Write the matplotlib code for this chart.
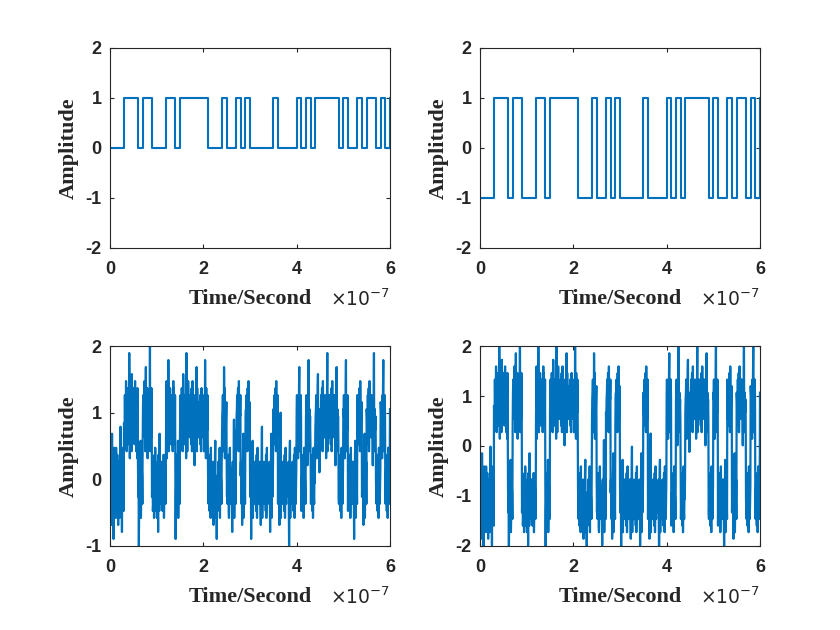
import numpy as np
import matplotlib
matplotlib.use("Agg")
import matplotlib.pyplot as plt

plt.rcParams['axes.unicode_minus'] = False

# ─────────────────────────────────────────────
# DATA
# ─────────────────────────────────────────────
BIT_TIME = 1e-8          # one bit = 0.1 x 10^-7 s

# 60 bits + the last sample drawn at t = 6e-7
bits = [0, 0, 0, 1, 1, 1, 0, 1, 1, 0,
        0, 0, 1, 1, 0, 1, 1, 1, 1, 1,
        1, 0, 0, 0, 1, 0, 0, 1, 0, 1,
        0, 0, 0, 0, 0, 1, 0, 0, 0, 0,
        1, 0, 1, 0, 1, 1, 1, 1, 1, 0,
        1, 0, 0, 1, 0, 1, 1, 0, 1, 0,
        1]

# noise samples inside each bit, coded as levels a..t (estimated)
noise_codes = [
    "hlfnjdkqgmeibkoh", "jgmkeohlfnkidjmg", "mekhrjfgnclhkoif", "ighmjfkolehnjgkm",
    "kfsjdnhmgiepkhlj", "gnkhflojimehkdng", "lhjagmkfnpehjlkg", "fkmijhoglenqjhfk",
    "ndhkflgmjtehkgnj", "hjlfgkmeinhojfkl", "kegmjcnhlfqikhmg", "imhkfjlgnehkmjgi",
    "gkodjhmfrlekhinj", "jfhlmkgeiohnjkfm", "lbhkjnfmgpeikhlg", "hkmgjfnliehpkgjm",
    "fmjkhdsgleniokhj", "kgihmjflnekohgjl", "mjcgkhlfoqenjkhi", "ghkljmfiehnkgmjk",
    "jkehmgrlfdnikhmg", "lhgjkfmnieohjgkl", "hmjdkglfnpeikhbj", "kfhmjlgioenhkjgm",
    "gjkmhefqlndikhjl", "mhkgjlnfeihokgjh", "jlhckmgfnsejkhmg", "hgjkmflnieohgkjm",
    "kmhgjdlfnqeikhjg", "fjkhmglenihokjgl", "lhjkbmgfnpeikhmj", "gkmhjflneiohkjgm",
    "jhkmgdlfnreikhjg", "mgjkhlfneiohkgjl", "hkjmgclfnqeikhjm", "kjhgmflnieohjkgm",
    "gmkhjdlfntejkhmg", "jhgkmflneiohgkjl", "lkhjmgafnpeikhjg", "hgmkjflnieohkgjm",
    "kmjhgdlfnqeikhmj", "fhkgjmlneiohkjgl", "jkmhgclfnreikhjg", "mgkjhlfneiohgkjm",
    "hjkmgdlfnpeikhbj", "kghjmflnieohkjgl", "gmhkjdlfnseikhmg", "jkgmhflneiohjgkm",
    "lhmkgclfnqeikhjg", "hgkjmflnieohkgjl", "kjmhgdlfnreikhmj", "fmkgjhlneiohkjgm",
    "jhkmgblfnpeikhjg", "mgjkhflnieohgkjl", "hkmjgdlfnqeikhmg", "kjghmflneiohjkgm",
    "gmkjhclfnseikhjg", "jhgmkflnieohkgjl", "lkjhgdmfnreikhmj", "hgkmjflneiohjgkm",
    "k",
]
NOISE_AMP_UNIPOLAR = 1.0
NOISE_AMP_BIPOLAR = 1.25

# ─────────────────────────────────────────────
# SIGNALS
# ─────────────────────────────────────────────
bits = np.array(bits, dtype=float)
t_bits = np.arange(len(bits)) * BIT_TIME
bipolar = 2 * bits - 1

t_noise, lvl, owner = [], [], []
for k, grp in enumerate(noise_codes):
    for j, ch in enumerate(grp):
        t_noise.append((k + j / len(grp)) * BIT_TIME)
        lvl.append((ord(ch) - ord('a') - 9.5) / 9.5)
        owner.append(k)
t_noise = np.array(t_noise)
lvl = np.array(lvl)
owner = np.array(owner)
noisy_uni = bits[owner] + lvl * NOISE_AMP_UNIPOLAR
noisy_bi = bipolar[owner] + lvl * NOISE_AMP_BIPOLAR

# ─────────────────────────────────────────────
# FIGURE
# ─────────────────────────────────────────────
BLUE = '#0072BD'
DARK = '#262626'
fig = plt.figure(figsize=(8.4, 6.3), dpi=100)

W, H = 280 / 840, 200 / 630
positions = [(110 / 840, (630 - 248) / 630), (480 / 840, (630 - 248) / 630),
             (110 / 840, (630 - 546) / 630), (480 / 840, (630 - 546) / 630)]


def style(ax, yticks):
    ax.set_xlim(0, 6e-7)
    ax.set_ylim(yticks[0], yticks[-1])
    ax.set_yticks(yticks)
    ax.set_yticklabels([str(v) for v in yticks])
    ax.set_xticks([0, 2e-7, 4e-7, 6e-7])
    ax.set_xticklabels(['0', '2', '4', '6'])
    ax.tick_params(direction='in', top=True, right=True, length=3,
                   width=0.8, color=DARK, labelcolor=DARK)
    ax.tick_params(axis='x', pad=9)
    ax.tick_params(axis='y', pad=6)
    for lab in ax.get_xticklabels() + ax.get_yticklabels():
        lab.set_fontfamily('Liberation Sans')
        lab.set_fontweight('bold')
        lab.set_fontsize(13)
    for sp in ax.spines.values():
        sp.set_color(DARK)
        sp.set_linewidth(0.8)
    ax.set_xlabel('Time/Second', family='Liberation Serif', fontweight='bold',
                  fontsize=16, color=DARK, labelpad=8)
    ax.set_ylabel('Amplitude', family='Liberation Serif', fontweight='bold',
                  fontsize=16, color=DARK, labelpad=5)
    ax.text(1.0, -0.255, r'$\times10^{-7}$', transform=ax.transAxes,
            ha='right', va='center', fontsize=13.5, color=DARK,
            family='Liberation Sans')


ax1 = fig.add_axes([*positions[0], W, H])
ax1.step(t_bits, bits, where='post', color=BLUE, lw=1.5)
style(ax1, [-2, -1, 0, 1, 2])

ax2 = fig.add_axes([*positions[1], W, H])
ax2.step(t_bits, bipolar, where='post', color=BLUE, lw=1.5)
style(ax2, [-2, -1, 0, 1, 2])

ax3 = fig.add_axes([*positions[2], W, H])
ax3.plot(t_noise, noisy_uni, color=BLUE, lw=1.6)
style(ax3, [-1, 0, 1, 2])

ax4 = fig.add_axes([*positions[3], W, H])
ax4.plot(t_noise, noisy_bi, color=BLUE, lw=1.6)
style(ax4, [-2, -1, 0, 1, 2])

fig.savefig('out.png', dpi=100)
